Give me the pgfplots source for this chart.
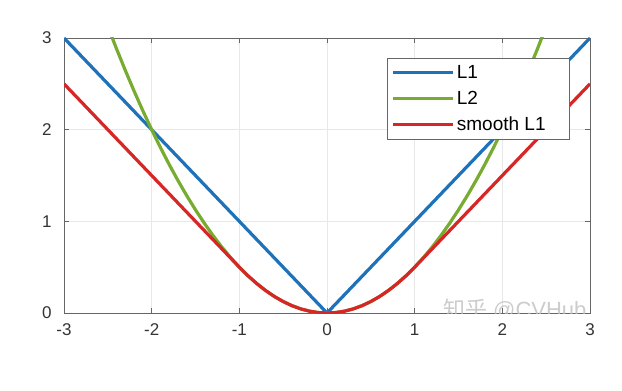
\documentclass[border=0pt]{standalone}
\usepackage{pgfplots}
\pgfplotsset{compat=1.18}
\usepackage{fontspec}
\setmainfont{Liberation Sans}
\newfontfamily\cjk{Noto Sans CJK SC}
\definecolor{mblue}{RGB}{30,114,185}
\definecolor{mgreen}{RGB}{119,172,48}
\definecolor{mred}{RGB}{215,38,38}
\begin{document}
\begin{tikzpicture}
\begin{axis}[
  scale only axis, width=526pt, height=275pt,
  xmin=-3, xmax=3, ymin=0, ymax=3,
  xtick={-3,-2,-1,0,1,2,3}, ytick={0,1,2,3},
  xticklabels={-3,-2,-1,0,1,2,3},
  grid=major, major grid style={gray!18, line width=0.6pt},
  axis line style={gray!80!black, line width=0.8pt},
  tick style={gray!80!black, line width=0.8pt},
  tick align=inside, major tick length=5pt,
  ticklabel style={font=\fontsize{17}{20}\selectfont, text=black!80},
  /pgf/number format/assume math mode=true,
  xticklabel style={yshift=-7pt},
  yticklabel style={xshift=-9pt},
  legend style={at={(rel axis cs:0.962,0.927)}, anchor=north east,
    font=\fontsize{19}{23}\selectfont, draw=gray!80!black, line width=0.8pt,
    row sep=7pt, inner xsep=4pt, inner ysep=5pt},
  legend cell align=left,
  legend image code/.code={\draw[#1, line width=3.2pt] (0pt,0pt) -- (60pt,0pt);},
]
\addplot[mblue, line width=3.2pt] coordinates {(-3,3) (0,0) (3,3)};
\addlegendentry{L1}
\addplot[mgreen, line width=3.2pt] coordinates {
(-2.5,3.125) (-2.4,2.88) (-2.3,2.645) (-2.2,2.42) (-2.1,2.205) (-2.0,2.0)
(-1.9,1.805) (-1.8,1.62) (-1.7,1.445) (-1.6,1.28) (-1.5,1.125) (-1.4,0.98)
(-1.3,0.845) (-1.2,0.72) (-1.1,0.605) (-1.0,0.5) (-0.9,0.405) (-0.8,0.32)
(-0.7,0.245) (-0.6,0.18) (-0.5,0.125) (-0.4,0.08) (-0.3,0.045) (-0.2,0.02)
(-0.1,0.005) (0,0) (0.1,0.005) (0.2,0.02) (0.3,0.045) (0.4,0.08) (0.5,0.125)
(0.6,0.18) (0.7,0.245) (0.8,0.32) (0.9,0.405) (1.0,0.5) (1.1,0.605) (1.2,0.72)
(1.3,0.845) (1.4,0.98) (1.5,1.125) (1.6,1.28) (1.7,1.445) (1.8,1.62) (1.9,1.805)
(2.0,2.0) (2.1,2.205) (2.2,2.42) (2.3,2.645) (2.4,2.88) (2.5,3.125)};
\addlegendentry{L2}
\addplot[mred, line width=3.2pt] coordinates {
(-3,2.5) (-1.0,0.5) (-0.9,0.405) (-0.8,0.32)
(-0.7,0.245) (-0.6,0.18) (-0.5,0.125) (-0.4,0.08) (-0.3,0.045) (-0.2,0.02)
(-0.1,0.005) (0,0) (0.1,0.005) (0.2,0.02) (0.3,0.045) (0.4,0.08) (0.5,0.125)
(0.6,0.18) (0.7,0.245) (0.8,0.32) (0.9,0.405) (1.0,0.5) (3,2.5)};
\addlegendentry{smooth L1\rule{18pt}{0pt}}
\node[anchor=center, text=gray!50, opacity=0.8, inner sep=0pt, font=\fontsize{22}{26}\selectfont]
  at (rel axis cs:0.857,0.01) {{\cjk 知乎} @CVHub};
\end{axis}
\path (current axis.south west) ++(-64pt,-77pt) coordinate (bl);
\path (current axis.north east) ++(32pt,38pt) coordinate (tr);
\path[use as bounding box] (bl) rectangle (tr);
\end{tikzpicture}
\end{document}
